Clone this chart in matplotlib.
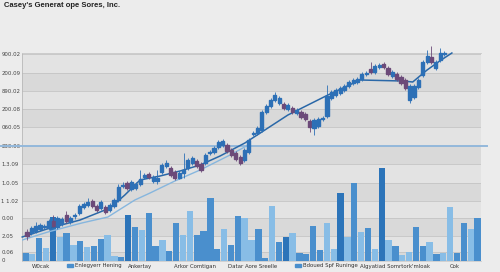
import matplotlib
matplotlib.use("Agg")
import matplotlib.pyplot as plt
from matplotlib.patches import Patch, Rectangle
import numpy as np

# candles (index order), price units on an arbitrary scale
opens = [30, 29, 31, 33, 35, 34, 41, 35, 38, 47, 40, 46, 49, 55, 57, 61, 56, 54, 55, 52,
         56, 62, 76, 79, 73, 74, 78, 85, 88, 81, 81, 90, 96, 94, 90, 84, 89, 94, 99, 101,
         98, 99, 109, 110, 115, 117, 117, 112, 109, 105, 102, 110, 128, 129, 132, 150, 156, 162, 159, 158,
         153, 154, 149, 150, 148, 141, 134, 136, 143, 146, 164, 167, 169, 172, 176, 179, 180, 183, 188, 193,
         190, 195, 198, 194, 186, 188, 185, 182, 162, 165, 175, 187, 200, 205, 194, 202, 208]
closes = [26, 34, 36, 37, 36, 41, 36, 44, 43, 41, 44, 47, 56, 58, 60, 56, 52, 60, 50, 57,
          62, 75, 77, 74, 80, 78, 83, 87, 85, 85, 84, 97, 99, 87, 84, 89, 92, 102, 104, 96,
          92, 107, 110, 114, 120, 121, 111, 107, 103, 99, 112, 122, 129, 134, 150, 156, 162, 167, 164, 154,
          157, 150, 152, 145, 143, 135, 142, 143, 144, 166, 170, 172, 174, 176, 180, 182, 183, 188, 189, 190,
          196, 197, 195, 188, 190, 183, 179, 174, 176, 176, 182, 200, 206, 200, 200, 209, 209]
highs = [33, 36, 40, 39, 38, 43, 47, 46, 45, 51, 46, 49, 58, 60, 64, 63, 58, 62, 57, 59,
         64, 78, 80, 81, 82, 80, 92, 89, 90, 87, 92, 99, 102, 96, 92, 91, 109, 104, 106, 103,
         100, 109, 112, 116, 122, 123, 119, 114, 111, 107, 114, 124, 131, 136, 152, 158, 164, 170, 166, 160,
         159, 156, 154, 152, 150, 143, 144, 145, 146, 177, 172, 174, 176, 178, 182, 184, 185, 190, 191, 200,
         198, 199, 200, 196, 192, 190, 187, 184, 178, 178, 184, 202, 212, 216, 202, 214, 211]
lows = [22, 27, 29, 31, 33, 32, 35, 33, 36, 39, 38, 43, 47, 53, 55, 54, 50, 52, 48, 50,
        54, 60, 74, 72, 71, 72, 76, 83, 83, 79, 78, 88, 94, 85, 82, 83, 84, 92, 97, 94,
        90, 97, 107, 108, 113, 115, 109, 105, 101, 97, 100, 108, 126, 127, 130, 148, 154, 160, 157, 152,
        151, 148, 147, 143, 141, 130, 127, 134, 141, 144, 162, 165, 167, 170, 174, 177, 178, 181, 186, 188,
        188, 193, 193, 186, 184, 181, 177, 172, 159, 163, 173, 185, 198, 198, 192, 200, 206]

# moving-average style lines (candle index, value)
ma_fast_x = [-1.1, 5.3, 12.2, 19.1, 22.5, 26, 30.6, 35.2, 39.8, 44.4, 50.1, 54.7, 60, 69.2,
             76.6, 86.4, 88.7, 92, 94.9, 97.7]
ma_fast_y = [25, 34, 42, 54, 67, 82, 86, 91, 97, 106, 119, 132, 147, 167,
             182, 181, 180, 192, 201, 209]
ma_slow_x = [-1.1, 4.8, 12.6, 18.6, 24.8, 28.3, 34, 39.8, 46.7, 51.3]
ma_slow_y = [22, 30, 39, 45, 62, 69, 81, 92, 107, 118]

# volume bars: height and shade (0 light, 1 mid, 2 dark)
vol = [8, 7, 23, 13, 44, 24, 28, 16, 20, 14, 15, 22, 26, 5, 4, 46, 34, 31, 48, 15,
       21, 10, 38, 26, 50, 26, 30, 63, 12, 32, 16, 45, 43, 21, 32, 3, 55, 19, 24, 28,
       8, 7, 35, 11, 38, 12, 68, 24, 78, 29, 33, 12, 93, 21, 15, 6, 9, 34, 15, 19,
       7, 8, 54, 8, 38, 32, 43]
shade = [1, 0, 1, 0, 2, 0, 1, 0, 1, 0, 1, 1, 0, 0, 1, 2, 1, 0, 1, 1,
         0, 1, 1, 0, 0, 1, 1, 1, 1, 0, 1, 1, 0, 0, 1, 1, 0, 1, 2, 0,
         1, 1, 1, 1, 0, 0, 2, 0, 1, 0, 1, 0, 2, 0, 1, 0, 0, 1, 1, 0,
         1, 0, 0, 1, 1, 0, 1]

ytick_vals = [2, 10, 26, 44, 61, 79, 98, 116, 135, 153, 171, 189, 208]
ytick_labels = ["0", "0.06", "2.05", "0.00", "1 1.02", "1.0.05", "1.3.09", "230.06",
                "060.05", "200.08", "890.02", "200.09", "900.02"]
xlabels = ["W0cak", "Ankertay", "Arkor Comtigan", "Datar Aore Sreelle",
           "Algyatiad Somrtork'mloak", "Cok"]
xlabel_pos = [2.8, 17.2, 25.2, 33.6, 54.5, 63.1]
legend_names = ["Enlegyerr Hening", "Bdoued Spf Runinge"]
ref_level = 116.5

up_col = "#2d70b6"
down_col = "#6c4a79"
bar_cols = ["#88bde6", "#4a8fcd", "#2c74b9"]

fig = plt.figure(figsize=(5.0, 2.72), dpi=100)
fig.patch.set_facecolor("#ececec")
rect = [22 / 500, 1 - 261 / 272, 459 / 500, 208 / 272]

ax = fig.add_axes(rect)
ax.set_facecolor("#e3e3e3")
ax.set_ylim(1, 209)
ax.set_xlim(0, len(vol))

# alternating bands and grid lines
for k in range(len(ytick_vals) - 1):
    if k % 2 == 0:
        ax.axhspan(ytick_vals[k], ytick_vals[k + 1], color="#d9d9d9", zorder=0, lw=0)
for v in ytick_vals:
    ax.axhline(v, color="#c4c4c4", lw=0.6, zorder=0.5)

xs = np.arange(len(vol)) + 0.5
ax.bar(xs, vol, bottom=1, width=0.92, color=[bar_cols[s] for s in shade], zorder=2)

ax.set_yticks(ytick_vals)
ax.set_yticklabels(ytick_labels, ha="left", fontsize=3.9, color="#444444")
ax.tick_params(axis="y", length=0, pad=15)
ax.set_xticks(xlabel_pos)
ax.set_xticklabels(xlabels, fontsize=3.9, color="#333333")
ax.tick_params(axis="x", length=0, pad=2)
ax.spines["right"].set_visible(False)
ax.spines["left"].set_color("#b8b8b8")
ax.spines["top"].set_color("#c8c8c8")
ax.spines["bottom"].set_color("#cccccc")
for s in ax.spines.values():
    s.set_linewidth(0.6)

ax.axhline(ref_level, xmin=-0.048, xmax=1.013, color="#93b8db", lw=1.4, clip_on=False, zorder=3)

# price layer
axp = ax.twiny()
axp.set_xlim(-1.15, 104.4)
axp.set_ylim(1, 209)
axp.axis("off")
axp.plot(ma_slow_x, ma_slow_y, color="#86b6de", lw=1.0, zorder=3)
axp.plot(ma_fast_x, ma_fast_y, color="#2a68a8", lw=1.1, zorder=3, clip_on=False)
for i in range(len(opens)):
    col = up_col if closes[i] >= opens[i] else down_col
    axp.vlines(i, lows[i], highs[i], color=col, lw=0.6, zorder=4, clip_on=False)
    lo, hi = min(opens[i], closes[i]), max(opens[i], closes[i])
    axp.add_patch(Rectangle((i - 0.36, lo), 0.72, max(hi - lo, 1.2), color=col,
                            zorder=5, clip_on=False))

fig.text(4 / 500, 1 - 2 / 272, "Casey's Generat ope Sores, Inc.", fontsize=5.5,
         fontweight="bold", va="top", ha="left", color="#222222", family="Liberation Sans")

for name, xp in zip(legend_names, [64, 292]):
    fig.legend(handles=[Patch(color=bar_cols[1])], labels=[name], loc="center left",
               bbox_to_anchor=(xp / 500, 1 - 266 / 272), frameon=False, fontsize=3.9,
               handlelength=1.1, handleheight=0.5, borderpad=0, handletextpad=0.5,
               labelcolor="#333333")

fig.savefig("out.png", dpi=100, facecolor=fig.get_facecolor())
